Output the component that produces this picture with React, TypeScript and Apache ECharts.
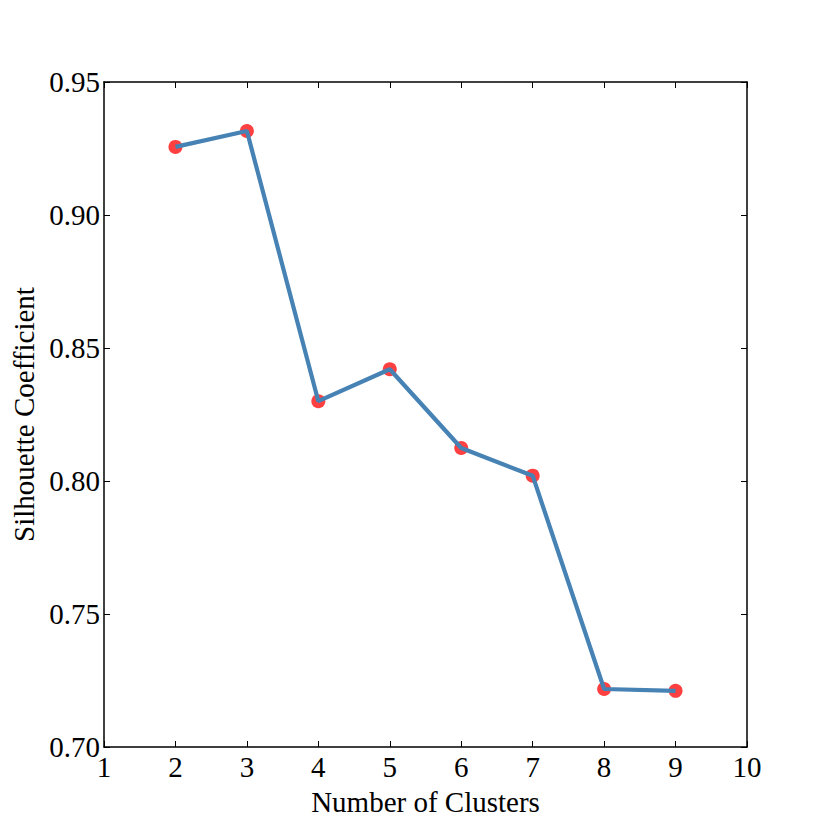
import React, { useEffect, useRef } from "react";
import * as echarts from "echarts";

const clusters = [2, 3, 4, 5, 6, 7, 8, 9];
const scores = [0.9256, 0.9316, 0.8300, 0.8420, 0.8124, 0.8020, 0.7218, 0.7211];
const xTicks = { min: 1, max: 10, interval: 1 };
const yTicks = { min: 0.7, max: 0.95, interval: 0.05 };

const FONT = "'Liberation Serif', 'DejaVu Serif', serif";
const FS = 29;

export default function App() {
  const ref = useRef<HTMLDivElement>(null);
  useEffect(() => {
    if (!ref.current) return;
    const chart = echarts.init(ref.current, undefined, { renderer: "svg" });
    const pts = clusters.map((c, i) => [c, scores[i]]);
    const axisLine = { show: true, lineStyle: { color: "#000", width: 1.5 } };
    const tick = { show: true, inside: true, length: 6, lineStyle: { color: "#000", width: 1 } };
    chart.setOption({
      animation: false,
      backgroundColor: "#fff",
      grid: {
        left: 104,
        top: 82,
        width: 643,
        height: 665,
        containLabel: false,
        outerBoundsMode: "none",
      },
      xAxis: [
        {
          type: "value",
          position: "bottom",
          min: xTicks.min,
          max: xTicks.max,
          interval: xTicks.interval,
          name: "Number of Clusters",
          nameLocation: "middle",
          nameGap: 40,
          nameTextStyle: { fontFamily: FONT, fontSize: FS, color: "#000" },
          axisLine,
          axisTick: tick,
          splitLine: { show: false },
          axisLabel: { fontFamily: FONT, fontSize: FS, color: "#000", margin: 5 },
        },
        {
          type: "value",
          position: "top",
          min: xTicks.min,
          max: xTicks.max,
          interval: xTicks.interval,
          axisLine,
          axisTick: tick,
          splitLine: { show: false },
          axisLabel: { show: false },
        },
      ],
      yAxis: [
        {
          type: "value",
          position: "left",
          min: yTicks.min,
          max: yTicks.max,
          interval: yTicks.interval,
          name: "Silhouette Coefficient",
          nameLocation: "middle",
          nameGap: 62,
          nameTextStyle: { fontFamily: FONT, fontSize: FS, color: "#000" },
          axisLine,
          axisTick: tick,
          splitLine: { show: false },
          axisLabel: {
            fontFamily: FONT,
            fontSize: FS,
            color: "#000",
            margin: 4,
            formatter: (v: number) => v.toFixed(2),
          },
        },
        {
          type: "value",
          position: "right",
          min: yTicks.min,
          max: yTicks.max,
          interval: yTicks.interval,
          axisLine,
          axisTick: tick,
          splitLine: { show: false },
          axisLabel: { show: false },
        },
      ],
      series: [
        {
          type: "scatter",
          data: pts,
          symbol: "circle",
          symbolSize: 14,
          itemStyle: { color: "rgba(255,0,0,0.75)", opacity: 1 },
          z: 2,
        },
        {
          type: "line",
          data: pts,
          showSymbol: false,
          symbol: "none",
          lineStyle: { color: "#4682b4", width: 4.2 },
          z: 3,
        },
      ],
    });
    return () => chart.dispose();
  }, []);
  return (
    <div
      ref={ref}
      style={{ position: "fixed", left: 0, top: 0, width: 830, height: 830, background: "#fff" }}
    />
  );
}
